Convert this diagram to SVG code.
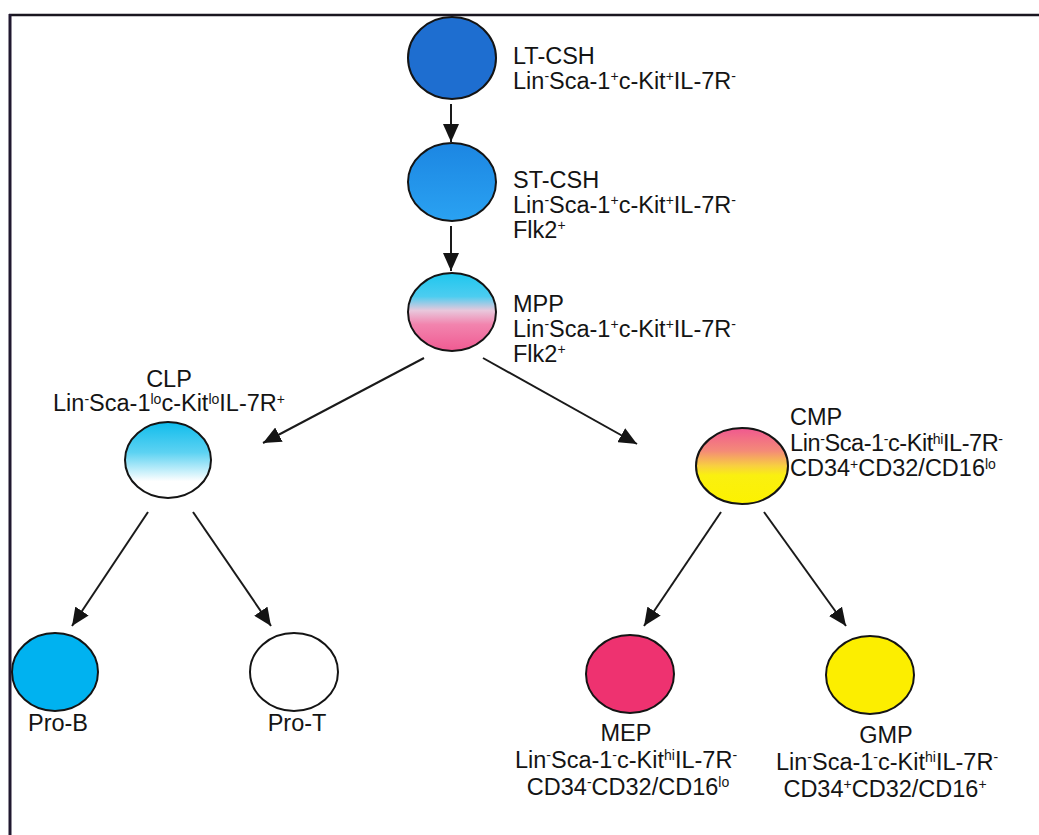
<svg xmlns="http://www.w3.org/2000/svg" width="1039" height="835" viewBox="0 0 1039 835">
<style>
.t{font-family:"Liberation Sans",Arial,sans-serif;font-size:23.5px;fill:#141414}
.s{font-size:14px}
.c{stroke:#1a1a1a;stroke-width:2}
.e{stroke:#141414;stroke-width:2}
</style>
<defs>
<marker id="ah" markerUnits="userSpaceOnUse" markerWidth="18" markerHeight="16" refX="18" refY="8" orient="auto">
<path d="M0,0 L18,8 L0,16 z" fill="#141414"/>
</marker>
<linearGradient id="gST" x1="0" y1="0" x2="0" y2="1">
<stop offset="0" stop-color="#1c86e2"/><stop offset="1" stop-color="#2aa2f2"/>
</linearGradient>
<linearGradient id="gMPP" x1="0" y1="0" x2="0" y2="1">
<stop offset="0" stop-color="#1ec6ee"/><stop offset="0.3" stop-color="#4ccdf0"/><stop offset="0.48" stop-color="#e8c8dc"/><stop offset="0.66" stop-color="#f284ae"/><stop offset="1" stop-color="#f05a92"/>
</linearGradient>
<linearGradient id="gCLP" x1="0" y1="0" x2="0" y2="1">
<stop offset="0" stop-color="#10bcec"/><stop offset="0.4" stop-color="#5cd2f2"/><stop offset="0.78" stop-color="#ffffff"/><stop offset="1" stop-color="#ffffff"/>
</linearGradient>
<linearGradient id="gCMP" x1="0" y1="0" x2="0" y2="1">
<stop offset="0" stop-color="#f05890"/><stop offset="0.3" stop-color="#f48a78"/><stop offset="0.5" stop-color="#f8d040"/><stop offset="0.62" stop-color="#faf010"/><stop offset="1" stop-color="#fcf200"/>
</linearGradient>
</defs>
<rect width="1039" height="835" fill="#ffffff"/>
<g id="frame">
<line x1="9" y1="15" x2="1039" y2="15" stroke="#1a1620" stroke-width="2.5"/>
<line x1="10" y1="14" x2="10" y2="835" stroke="#201830" stroke-width="3"/>
</g>
<g id="connectors" class="c" marker-end="url(#ah)">
<line x1="451" y1="104" x2="451" y2="142"/>
<line x1="451" y1="226" x2="451" y2="271"/>
<line x1="424" y1="358" x2="263" y2="443"/>
<line x1="483" y1="358" x2="637" y2="444"/>
<line x1="148" y1="512" x2="72" y2="626"/>
<line x1="193" y1="512" x2="271" y2="626"/>
<line x1="721" y1="512" x2="644" y2="626"/>
<line x1="764" y1="512" x2="846" y2="626"/>
</g>
<g id="LT-CSH">
<ellipse class="e" cx="452" cy="58" rx="44" ry="41" fill="#1e6ed0"/>
<text class="t" x="513" y="64">LT-CSH</text>
<text class="t" x="513" y="89">Lin<tspan class="s" dy="-8">-</tspan><tspan dy="8">Sca-1</tspan><tspan class="s" dy="-8">+</tspan><tspan dy="8">c-Kit</tspan><tspan class="s" dy="-8">+</tspan><tspan dy="8">IL-7R</tspan><tspan class="s" dy="-8">-</tspan></text>
</g>
<g id="ST-CSH">
<ellipse class="e" cx="452" cy="182" rx="44" ry="39" fill="url(#gST)"/>
<text class="t" x="513" y="188">ST-CSH</text>
<text class="t" x="513" y="213">Lin<tspan class="s" dy="-8">-</tspan><tspan dy="8">Sca-1</tspan><tspan class="s" dy="-8">+</tspan><tspan dy="8">c-Kit</tspan><tspan class="s" dy="-8">+</tspan><tspan dy="8">IL-7R</tspan><tspan class="s" dy="-8">-</tspan></text>
<text class="t" x="513" y="238">Flk2<tspan class="s" dy="-8">+</tspan></text>
</g>
<g id="MPP">
<ellipse class="e" cx="452" cy="312" rx="44" ry="39" fill="url(#gMPP)"/>
<text class="t" x="513" y="312">MPP</text>
<text class="t" x="513" y="337">Lin<tspan class="s" dy="-8">-</tspan><tspan dy="8">Sca-1</tspan><tspan class="s" dy="-8">+</tspan><tspan dy="8">c-Kit</tspan><tspan class="s" dy="-8">+</tspan><tspan dy="8">IL-7R</tspan><tspan class="s" dy="-8">-</tspan></text>
<text class="t" x="513" y="362">Flk2<tspan class="s" dy="-8">+</tspan></text>
</g>
<g id="CLP">
<ellipse class="e" cx="168" cy="460" rx="43" ry="38" fill="url(#gCLP)"/>
<text class="t" x="169" y="387" text-anchor="middle">CLP</text>
<text class="t" x="169" y="411" text-anchor="middle">Lin<tspan class="s" dy="-7">-</tspan><tspan dy="7">Sca-1</tspan><tspan class="s" dy="-7">lo</tspan><tspan dy="7">c-Kit</tspan><tspan class="s" dy="-7">lo</tspan><tspan dy="7">IL-7R</tspan><tspan class="s" dy="-7">+</tspan></text>
</g>
<g id="CMP">
<ellipse class="e" cx="742" cy="466" rx="46" ry="38" fill="url(#gCMP)"/>
<text class="t" x="790" y="425">CMP</text>
<text class="t" x="790" y="451" textLength="213">Lin<tspan class="s" dy="-7">-</tspan><tspan dy="7">Sca-1</tspan><tspan class="s" dy="-7">-</tspan><tspan dy="7">c-Kit</tspan><tspan class="s" dy="-7">hi</tspan><tspan dy="7">IL-7R</tspan><tspan class="s" dy="-7">-</tspan></text>
<text class="t" x="790" y="476">CD34<tspan class="s" dy="-7">+</tspan><tspan dy="7">CD32/CD16</tspan><tspan class="s" dy="-7">lo</tspan></text>
</g>
<g id="Pro-B">
<ellipse class="e" cx="55" cy="672" rx="43" ry="39" fill="#00b2f0"/>
<text class="t" x="58" y="731" text-anchor="middle">Pro-B</text>
</g>
<g id="Pro-T">
<ellipse class="e" cx="294" cy="672" rx="44" ry="39" fill="#ffffff"/>
<text class="t" x="297" y="731" text-anchor="middle">Pro-T</text>
</g>
<g id="MEP">
<ellipse class="e" cx="630" cy="674" rx="44" ry="39" fill="#ee3270"/>
<text class="t" x="626" y="741" text-anchor="middle">MEP</text>
<text class="t" x="626" y="768" text-anchor="middle">Lin<tspan class="s" dy="-8">-</tspan><tspan dy="8">Sca-1</tspan><tspan class="s" dy="-8">-</tspan><tspan dy="8">c-Kit</tspan><tspan class="s" dy="-8">hi</tspan><tspan dy="8">IL-7R</tspan><tspan class="s" dy="-8">-</tspan></text>
<text class="t" x="628" y="795" text-anchor="middle">CD34<tspan class="s" dy="-8">-</tspan><tspan dy="8">CD32/CD16</tspan><tspan class="s" dy="-8">lo</tspan></text>
</g>
<g id="GMP">
<ellipse class="e" cx="870" cy="675" rx="44" ry="39" fill="#fcee00"/>
<text class="t" x="886" y="743" text-anchor="middle">GMP</text>
<text class="t" x="887" y="770" text-anchor="middle">Lin<tspan class="s" dy="-8">-</tspan><tspan dy="8">Sca-1</tspan><tspan class="s" dy="-8">-</tspan><tspan dy="8">c-Kit</tspan><tspan class="s" dy="-8">hi</tspan><tspan dy="8">IL-7R</tspan><tspan class="s" dy="-8">-</tspan></text>
<text class="t" x="885" y="797" text-anchor="middle">CD34<tspan class="s" dy="-8">+</tspan><tspan dy="8">CD32/CD16</tspan><tspan class="s" dy="-8">+</tspan></text>
</g>
</svg>
